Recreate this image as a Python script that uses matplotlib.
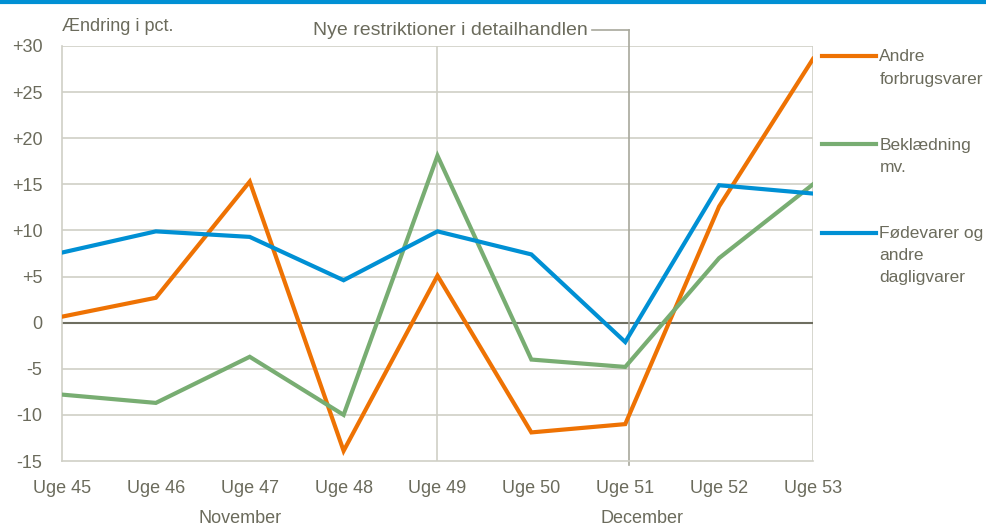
import matplotlib
matplotlib.use("Agg")
import matplotlib.pyplot as plt
from matplotlib.lines import Line2D

plt.rcParams['font.family'] = ['Liberation Sans', 'DejaVu Sans']

weeks = ["Uge 45", "Uge 46", "Uge 47", "Uge 48", "Uge 49", "Uge 50", "Uge 51", "Uge 52", "Uge 53"]
andre = [0.65, 2.7, 15.3, -13.9, 5.1, -11.9, -11.0, 12.6, 28.6]
beklaedning = [-7.8, -8.7, -3.7, -10.0, 18.1, -4.0, -4.8, 7.0, 15.0]
foedevarer = [7.6, 9.9, 9.3, 4.6, 9.9, 7.4, -2.1, 14.9, 14.0]
yticks = [-15, -10, -5, 0, 5, 10, 15, 20, 25, 30]
ytick_labels = ["-15", "-10", "-5", "0", "+5", "+10", "+15", "+20", "+25", "+30"]

series = [
    ("Andre\nforbrugsvarer", andre, "#ee7203"),
    ("Beklædning\nmv.", beklaedning, "#78ad72"),
    ("Fødevarer og\nandre\ndagligvarer", foedevarer, "#0090d4"),
]

text_col = "#6b6b5c"
grid_col = "#cfcfc6"

fig = plt.figure(figsize=(9.87, 5.25), dpi=100)
ax = fig.add_axes([0.0628, 0.1219, 0.7609, 0.7905])

x = list(range(len(weeks)))
ax.set_xlim(0, len(weeks) - 1)
ax.set_ylim(-15, 30)
ax.set_yticks(yticks)
ax.set_yticklabels(ytick_labels)
ax.set_xticks(x)
ax.set_xticklabels(weeks)
ax.tick_params(length=0, labelsize=13, colors=text_col)
ax.tick_params(axis='y', pad=14)
ax.tick_params(axis='x', pad=14)

for v in yticks[1:]:
    if v != 0:
        ax.axhline(v, color=grid_col, lw=1.2, zorder=1)
ax.axhline(0, color="#6e6e60", lw=1.5, zorder=2)
ax.axvline(4, color=grid_col, lw=1.2, zorder=1)
ax.axvline(len(weeks) - 1, color=grid_col, lw=1.2, zorder=1)
for s in ["top", "right"]:
    ax.spines[s].set_visible(False)
for s in ["left", "bottom"]:
    ax.spines[s].set_color(grid_col)
    ax.spines[s].set_linewidth(1.2)

for label, vals, col in series:
    ax.plot(x, vals, color=col, lw=3, zorder=3, solid_joinstyle='miter')

# marker line for new restrictions (Uge 51)
ax.plot([6.04, 6.04], [-15.4, 31.7], color="#a8a89c", lw=1.2, zorder=2, clip_on=False)
ax.plot([5.65, 6.04], [31.7, 31.7], color="#a8a89c", lw=1.2, zorder=2, clip_on=False)
ax.text(5.6, 31.7, "Nye restriktioner i detailhandlen", ha="right", va="center",
        fontsize=14, color=text_col, clip_on=False)
ax.text(0, 32.1, "Ændring i pct.", ha="left", va="center", fontsize=13, color=text_col)

ax.text(1.9, -21.2, "November", ha="center", va="center", fontsize=13, color=text_col)
ax.text(6.18, -21.2, "December", ha="center", va="center", fontsize=13, color=text_col)

# legend drawn at the right side
legend_y = [0.893, 0.725, 0.557]
for (label, vals, col), ly in zip(series, legend_y):
    fig.add_artist(Line2D([0.833, 0.888], [ly, ly], color=col, lw=3))
    fig.text(0.891, ly + 0.013, label, ha="left", va="top", fontsize=12.5,
             color=text_col, linespacing=1.6)

# blue bar at top
fig.add_artist(Line2D([0, 1], [0.997, 0.997], color="#0090d4", lw=3))

fig.savefig("out.png", dpi=100)
